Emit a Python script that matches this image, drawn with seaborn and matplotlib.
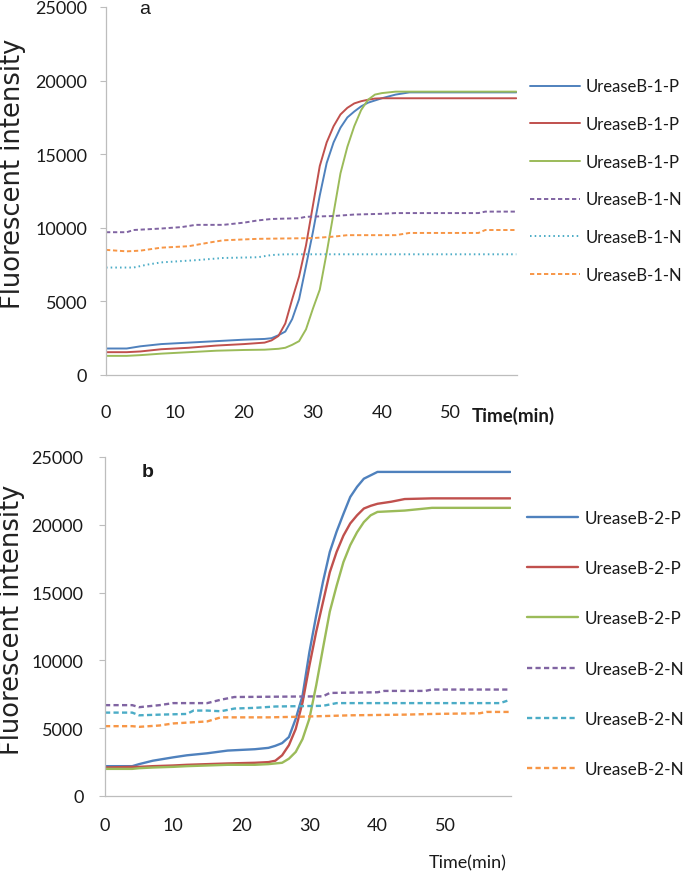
import numpy as np
import pandas as pd
import matplotlib
matplotlib.use("Agg")
import matplotlib.pyplot as plt
import seaborn as sns

# ---------------- data ----------------
# Panel a
T_A = [0, 3, 5, 8, 12, 16, 20, 23, 24, 25, 26, 27, 28, 29, 30, 31, 32, 33,
       34, 35, 36, 37, 38, 39, 40, 42, 44, 59.5]
A_P1 = [1800, 1800, 1950, 2100, 2200, 2300, 2400, 2450, 2500, 2700, 2950, 3800,
        5150, 7400, 9700, 12200, 14400, 15800, 16800, 17500, 17900, 18250,
        18500, 18650, 18800, 19050, 19200, 19200]
A_P2 = [1550, 1550, 1600, 1750, 1850, 2000, 2100, 2200, 2350, 2650, 3500, 5150,
        6700, 8800, 11500, 14200, 15800, 16900, 17700, 18150, 18450, 18600,
        18700, 18780, 18800, 18800, 18800, 18800]
A_P3 = [1300, 1300, 1350, 1450, 1550, 1650, 1700, 1720, 1750, 1780, 1850, 2050,
        2300, 3100, 4500, 5800, 8300, 11000, 13700, 15500, 16900, 18000,
        18700, 19050, 19150, 19250, 19250, 19250]
A_N1_T = [0, 3, 4, 8, 11, 13, 17, 20, 22, 24, 28, 29, 33, 36, 40, 42, 54, 55, 59.5]
A_N1 = [9700, 9700, 9850, 9950, 10050, 10200, 10200, 10350, 10500, 10600,
        10650, 10750, 10800, 10900, 10950, 11000, 11000, 11100, 11100]
A_N2_T = [0, 4, 6, 8, 13, 17, 22, 24, 26, 59.5]
A_N2 = [7300, 7300, 7500, 7650, 7800, 7950, 8000, 8150, 8200, 8200]
A_N3_T = [0, 3, 5, 8, 12, 15, 17, 22, 30, 33, 35, 42, 44, 54, 55, 59.5]
A_N3 = [8500, 8400, 8450, 8650, 8750, 9000, 9150, 9250, 9300, 9400, 9500,
        9500, 9650, 9650, 9850, 9850]
LABELS_A = ["UreaseB-1-P", "UreaseB-1-P", "UreaseB-1-P",
            "UreaseB-1-N", "UreaseB-1-N", "UreaseB-1-N"]

# Panel b
T_B = [0, 4, 5, 7, 10, 12, 15, 18, 22, 24, 25, 26, 27, 28, 29, 30, 31, 32, 33,
       34, 35, 36, 37, 38, 39, 40, 42, 44, 48, 59.5]
B_P1 = [2200, 2200, 2350, 2600, 2850, 3000, 3150, 3350, 3450, 3550, 3700, 3900,
        4350, 5700, 7400, 10600, 13300, 15800, 18000, 19500, 20800, 22050,
        22800, 23400, 23650, 23900, 23900, 23900, 23900, 23900]
B_P2 = [2100, 2150, 2150, 2200, 2250, 2300, 2350, 2400, 2450, 2500, 2600, 3000,
        3750, 4950, 6900, 9600, 12100, 14300, 16500, 18000, 19200, 20100,
        20700, 21200, 21400, 21550, 21700, 21900, 21950, 21950]
B_P3 = [2000, 2000, 2050, 2100, 2150, 2200, 2250, 2300, 2300, 2350, 2400, 2450,
        2750, 3250, 4200, 5700, 8150, 10900, 13600, 15500, 17250, 18500,
        19450, 20200, 20700, 20950, 21000, 21050, 21250, 21250]
B_N1_T = [0, 4, 5, 8, 10, 15, 17, 19, 32, 33, 40, 41, 47, 48, 59.5]
B_N1 = [6700, 6700, 6550, 6700, 6850, 6850, 7100, 7300, 7350, 7600, 7650,
        7750, 7750, 7850, 7850]
B_N2_T = [0, 4, 5, 8, 12, 13, 15, 17, 19, 22, 25, 32, 34, 58, 59.5]
B_N2 = [6150, 6150, 5950, 6000, 6050, 6300, 6300, 6250, 6450, 6500, 6600,
        6650, 6850, 6850, 7100]
B_N3_T = [0, 4, 5, 8, 10, 15, 17, 24, 29, 36, 44, 48, 55, 56, 59.5]
B_N3 = [5150, 5150, 5100, 5200, 5350, 5500, 5800, 5800, 5850, 5950, 6000,
        6050, 6100, 6200, 6200]
LABELS_B = ["UreaseB-2-P", "UreaseB-2-P", "UreaseB-2-P",
            "UreaseB-2-N", "UreaseB-2-N", "UreaseB-2-N"]

Y_TICKS = [0, 5000, 10000, 15000, 20000, 25000]
X_TICKS = [0, 10, 20, 30, 40, 50]

# ---------------- style ----------------
sns.set_style("white")
plt.rcParams["font.family"] = ["Lato", "DejaVu Sans"]

BLUE, RED, GREEN = "#4F81BD", "#C0504D", "#9BBB59"
PURPLE, CYAN, ORANGE = "#8064A2", "#4BACC6", "#F79646"
SPINE = "#BDBDBD"
TXT = "#1a1a1a"
LEG_FONT = ["Lato", "DejaVu Sans"]

W, H = 685, 878
fig = plt.figure(figsize=(W / 100, H / 100), dpi=100)

ax1 = fig.add_axes([106 / W, 1 - 376 / H, (517 - 106) / W, (376 - 8) / H])
ax2 = fig.add_axes([105 / W, 1 - 797 / H, (511 - 105) / W, (797 - 458) / H])


def draw_panel(ax, series, labels, lw):
    for (t, v, color, ls), lab in zip(series, labels):
        df = pd.DataFrame({"t": t, "v": v})
        sns.lineplot(data=df, x="t", y="v", ax=ax, color=color, lw=lw,
                     linestyle=ls, label=lab, estimator=None, sort=False)


dash = (0, (2.2, 1.4))
dot = (0, (0.8, 1.6))

draw_panel(ax1, [
    (T_A, A_P1, BLUE, "-"),
    (T_A, A_P2, RED, "-"),
    (T_A, A_P3, GREEN, "-"),
    (A_N1_T, A_N1, PURPLE, dash),
    (A_N2_T, A_N2, CYAN, dot),
    (A_N3_T, A_N3, ORANGE, dash),
], LABELS_A, 1.4)

draw_panel(ax2, [
    (T_B, B_P1, BLUE, "-"),
    (T_B, B_P2, RED, "-"),
    (T_B, B_P3, GREEN, "-"),
    (B_N1_T, B_N1, PURPLE, dash),
    (B_N2_T, B_N2, CYAN, dash),
    (B_N3_T, B_N3, ORANGE, dash),
], LABELS_B, 1.7)

for ax, xpad, ypad in [(ax1, 21, 9.5), (ax2, 15, 11.5)]:
    ax.set_xlim(0, 59.6)
    ax.set_ylim(0, 25000)
    ax.set_xticks(X_TICKS)
    ax.set_yticks(Y_TICKS)
    ax.set_xlabel("")
    ax.set_ylabel("")
    for s in ["top", "right"]:
        ax.spines[s].set_visible(False)
    for s in ["left", "bottom"]:
        ax.spines[s].set_color(SPINE)
        ax.spines[s].set_linewidth(0.9)
    ax.tick_params(axis="x", length=0, pad=xpad, labelsize=13, labelcolor=TXT)
    ax.tick_params(axis="y", left=True, length=4, width=0.8, color=SPINE,
                   direction="out", pad=ypad, labelsize=13, labelcolor=TXT)
    ax.patch.set_alpha(0)

# legends
for ax, yc, x0, fs, spacing in [(ax1, 181.5, 530, 12.0, 1.3),
                                 (ax2, 644.5, 527, 12.3, 2.0)]:
    h, l = ax.get_legend_handles_labels()
    if ax.get_legend() is not None:
        ax.get_legend().remove()
    leg = fig.legend(h, l, loc="center left",
                     bbox_to_anchor=(x0 / W, 1 - yc / H),
                     bbox_transform=fig.transFigure,
                     frameon=False, borderpad=0, borderaxespad=0,
                     handlelength=3.0, handletextpad=0.36,
                     labelspacing=spacing,
                     prop={"family": LEG_FONT, "size": fs})
    for t in leg.get_texts():
        t.set_color(TXT)

# axis titles
fig.text(13 / W, 1 - 174 / H, "Fluorescent intensity", rotation=90,
         ha="center", va="center", fontsize=18.5, color="#222222",
         family=["DejaVu Sans"])
fig.text(12 / W, 1 - 620 / H, "Fluorescent intensity", rotation=90,
         ha="center", va="center", fontsize=18.5, color="#222222",
         family=["DejaVu Sans"])
fig.text(472 / W, 1 - 416 / H, "Time(min)", ha="left", va="center",
         fontsize=13.5, fontweight="bold", color=TXT, family=LEG_FONT)
fig.text(429 / W, 1 - 863 / H, "Time(min)", ha="left", va="center",
         fontsize=13, color=TXT, family=LEG_FONT)

# panel letters
fig.text(145 / W, 1 - 10 / H, "a", ha="center", va="center",
         fontsize=14, color=TXT, family=["Liberation Sans", "DejaVu Sans"])
fig.text(148 / W, 1 - 473 / H, "b", ha="center", va="center",
         fontsize=14, fontweight="bold", color=TXT,
         family=["Liberation Sans", "DejaVu Sans"])

fig.savefig("out.png", dpi=100)
